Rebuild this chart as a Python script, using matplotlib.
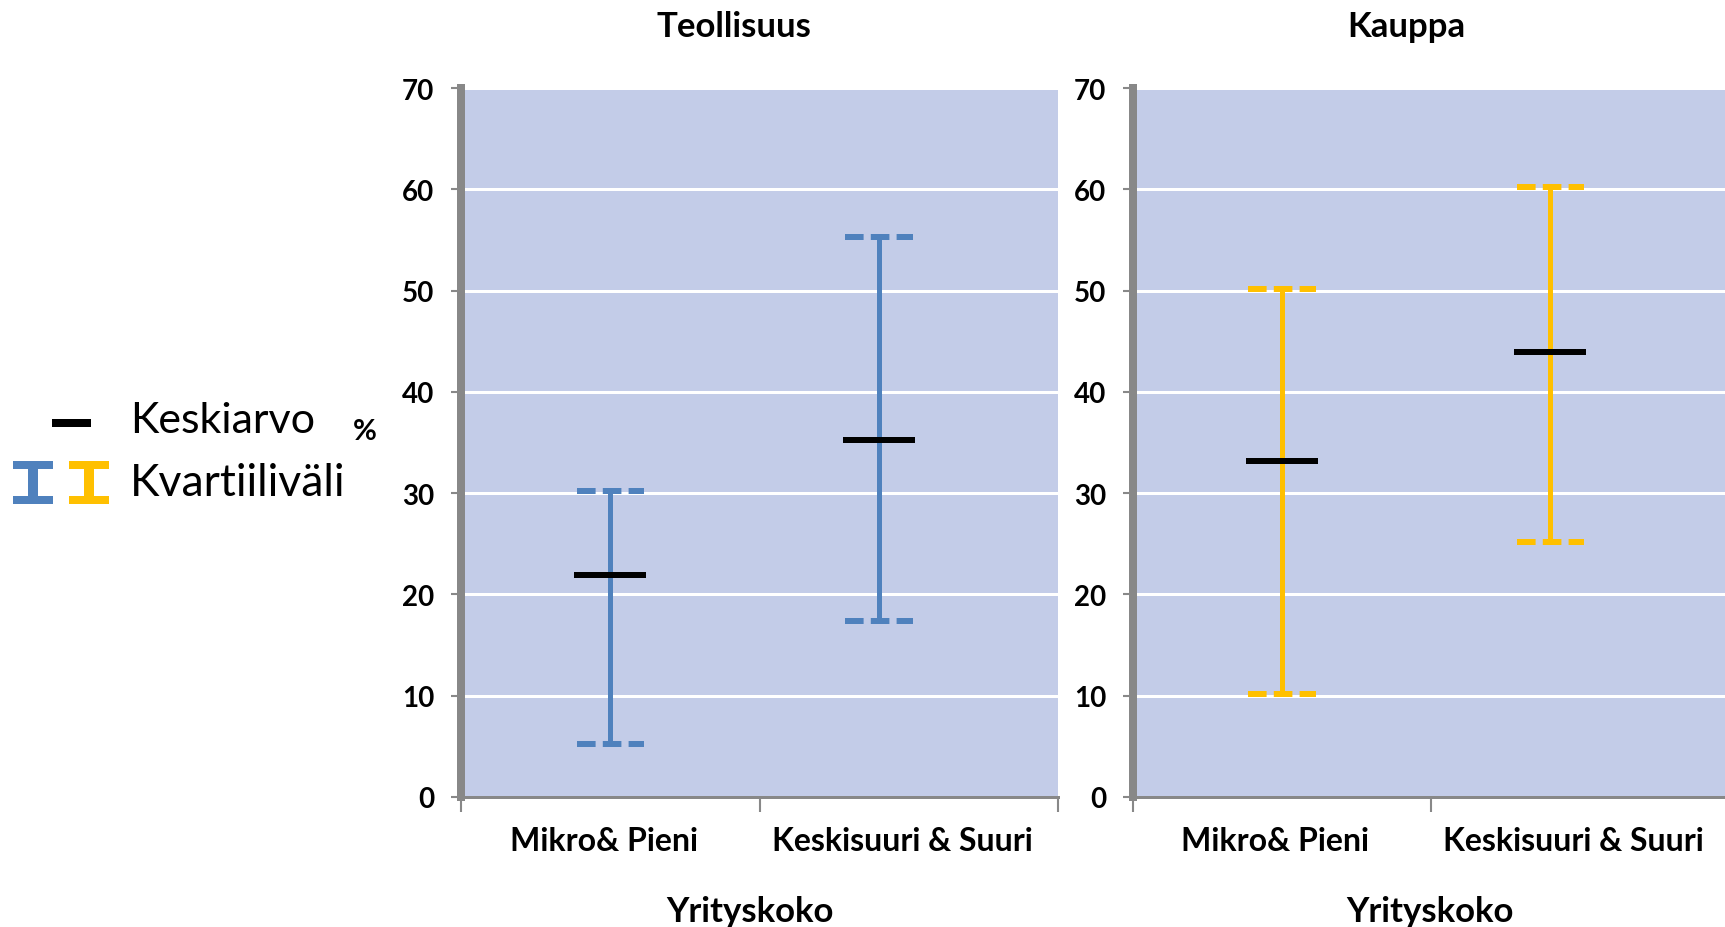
import matplotlib
matplotlib.use("Agg")
import matplotlib.pyplot as plt
import matplotlib.transforms as mtransforms
import numpy as np

plt.rcParams["font.family"] = ["Lato", "DejaVu Sans"]

# ---- data -------------------------------------------------------------
categories = ["Mikro& Pieni", "Keskisuuri & Suuri"]
panels = ["Teollisuus", "Kauppa"]

teollisuus_mean = [21.9, 35.2]
teollisuus_q1 = [5.2, 17.4]
teollisuus_q3 = [30.2, 55.3]

kauppa_mean = [33.2, 43.9]
kauppa_q1 = [10.2, 25.2]
kauppa_q3 = [50.2, 60.2]

yticks = [0, 10, 20, 30, 40, 50, 60, 70]
xlabel = "Yrityskoko"

# ---- style ------------------------------------------------------------
BG = "#C3CCE8"
GREY = "#888888"
BLUE = "#4F81BD"
GOLD = "#FFC000"
PX = 0.72  # points per pixel at dpi=100
# the second marker sits a bit left of its category centre in the original
MARK_X = np.array([0.0, 0.9])

fig = plt.figure(figsize=(17.25, 9.28), dpi=100)
W, H = 1725, 928


def pix_axes(x0, x1, y_top, y_bot):
    return fig.add_axes([x0 / W, 1 - y_bot / H, (x1 - x0) / W, (y_bot - y_top) / H])


ax1 = pix_axes(461, 1058, 89, 798)
ax2 = pix_axes(1133, 1729, 89, 798)

data = [
    (ax1, teollisuus_mean, teollisuus_q1, teollisuus_q3, BLUE, panels[0]),
    (ax2, kauppa_mean, kauppa_q1, kauppa_q3, GOLD, panels[1]),
]

shift = mtransforms.ScaledTranslation(-0.066, 0, fig.dpi_scale_trans)

for ax, mean, q1, q3, col, title in data:
    x = np.arange(len(categories))
    ax.set_facecolor(BG)
    ax.set_xlim(-0.5, len(categories) - 0.5)
    ax.set_ylim(0, 70)

    # interquartile range: solid stem + dashed caps
    ax.vlines(MARK_X, q1, q3, color=col, lw=5 * PX, zorder=3)
    cap = 0.113
    for q in (q1, q3):
        ax.hlines(q, MARK_X - cap, MARK_X + cap, color=col, lw=6 * PX,
                  linestyles=[(0, (3.1, 1.2))], zorder=3)
    # mean
    ax.hlines(mean, MARK_X - 0.12, MARK_X + 0.12, color="black", lw=6 * PX, zorder=4)

    ax.set_yticks(yticks)
    ax.grid(axis="y", color="white", lw=3 * PX)
    ax.set_axisbelow(True)

    ax.set_xticks(np.arange(-0.5, len(categories)), labels=[])
    ax.set_xticks(x, labels=categories, minor=True)
    ax.tick_params(axis="x", which="major", direction="out", length=11,
                   width=1.5, color=GREY)
    ax.tick_params(axis="x", which="minor", length=0, pad=21, labelsize=23)
    ax.tick_params(axis="y", direction="out", length=7, width=1.5,
                   color=GREY, pad=12, labelsize=20)
    for lab in ax.get_xticklabels(minor=True):
        lab.set_fontweight("bold")
        lab.set_transform(lab.get_transform() + shift)
    for lab in ax.get_yticklabels():
        lab.set_fontweight("bold")

    for s in ("top", "right"):
        ax.spines[s].set_visible(False)
    ax.spines["left"].set_color(GREY)
    ax.spines["left"].set_linewidth(8 * PX)
    ax.spines["bottom"].set_color(GREY)
    ax.spines["bottom"].set_linewidth(3 * PX)

    ax.set_title(title, x=0.458, pad=37.5, fontsize=25, fontweight="bold")
    ax.set_xlabel(xlabel, fontsize=25, fontweight="bold")

ax1.xaxis.set_label_coords(0.484, -0.138)
ax2.xaxis.set_label_coords(0.498, -0.138)

# ---- hand-drawn legend (left margin) ---------------------------------
lg = fig.add_axes([0, 0, 1, 1], facecolor="none")
lg.set_xlim(0, W)
lg.set_ylim(H, 0)
lg.axis("off")

lg.plot([52, 91], [424, 424], color="black", lw=8 * PX, solid_capstyle="butt")
lg.text(130, 421, "Keskiarvo", fontsize=31, va="center")
lg.text(353, 432, "%", fontsize=21, fontweight="bold", va="center")

for x0, col in ((13, BLUE), (69, GOLD)):
    lg.plot([x0, x0 + 40], [466, 466], color=col, lw=8 * PX, solid_capstyle="butt")
    lg.plot([x0, x0 + 40], [501, 501], color=col, lw=8 * PX, solid_capstyle="butt")
    lg.plot([x0 + 20, x0 + 20], [466, 501], color=col, lw=10 * PX, solid_capstyle="butt")
lg.text(130, 484, "Kvartiiliväli", fontsize=32, va="center")

fig.savefig("out.png", dpi=100, facecolor="white")
